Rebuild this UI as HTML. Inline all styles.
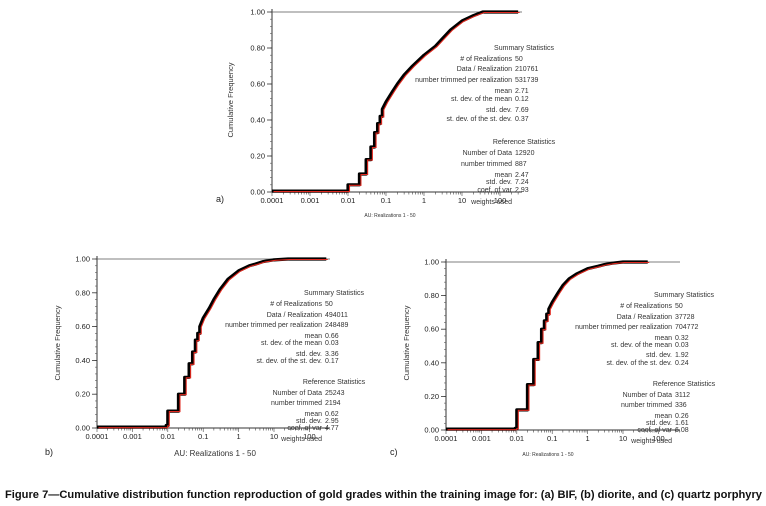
<!DOCTYPE html>
<html><head><meta charset="utf-8">
<style>
html,body{margin:0;padding:0;background:#fff;}
svg{display:block;font-family:"Liberation Sans",Arial,sans-serif;}
</style></head>
<body>
<svg id="fig" width="766" height="506" viewBox="0 0 766 506">
<text x="5" y="498" font-size="11" font-weight="bold" textLength="757" lengthAdjust="spacingAndGlyphs" fill="#111">Figure 7—Cumulative distribution function reproduction of gold grades within the training image for: (a) BIF, (b) diorite, and (c) quartz porphyry</text>
</svg>
<script>
// Panel a (BIF) CDF: grade values and cumulative frequency
const aGrades = [0.0001,0.01,0.02,0.03,0.04,0.05,0.06,0.07,0.08,0.1,0.15,0.2,0.3,0.5,1,2,3,5,10,20,35,300];
const aFreq   = [0.005,0.04,0.1,0.18,0.25,0.33,0.38,0.42,0.46,0.5,0.56,0.6,0.65,0.7,0.76,0.81,0.85,0.9,0.95,0.98,1.0,1.0];
// Panel b (diorite)
const bGrades = [0.0001,0.009,0.01,0.02,0.03,0.04,0.05,0.06,0.07,0.08,0.1,0.15,0.2,0.3,0.5,1,2,3,5,10,25,300];
const bFreq   = [0.005,0.015,0.1,0.2,0.3,0.38,0.45,0.52,0.56,0.6,0.65,0.71,0.76,0.82,0.88,0.93,0.96,0.97,0.985,0.995,1.0,1.0];
// Panel c (quartz porphyry)
const cGrades = [0.0001,0.009,0.01,0.02,0.03,0.04,0.05,0.06,0.07,0.08,0.1,0.15,0.2,0.3,0.5,1,2,3,5,10,50];
const cFreq   = [0.005,0.01,0.12,0.27,0.42,0.52,0.6,0.65,0.69,0.72,0.76,0.82,0.86,0.9,0.93,0.96,0.975,0.985,0.993,1.0,1.0];
// Axis tick labels
const yTickLabels = ["0.00","0.20","0.40","0.60","0.80","1.00"];
const yTickValues = [0,0.2,0.4,0.6,0.8,1.0];
const xTickLabels = ["0.0001","0.001","0.01","0.1","1","10","100"];
const xTickValues = [0.0001,0.001,0.01,0.1,1,10,100];
// Statistics tables
const aStats = [["# of Realizations","50"],["Data / Realization","210761"],["number trimmed per realization","531739"],["mean","2.71"],["st. dev. of the mean","0.12"],["std. dev.","7.69"],["st. dev. of the st. dev.","0.37"]];
const aRef = [["Number of Data","12920"],["number trimmed","887"],["mean","2.47"],["std. dev.","7.24"],["coef. of var","2.93"],["weights used",""]];
const bStats = [["# of Realizations","50"],["Data / Realization","494011"],["number trimmed per realization","248489"],["mean","0.66"],["st. dev. of the mean","0.03"],["std. dev.","3.36"],["st. dev. of the st. dev.","0.17"]];
const bRef = [["Number of Data","25243"],["number trimmed","2194"],["mean","0.62"],["std. dev.","2.95"],["coef. of var","4.77"],["weights used",""]];
const cStats = [["# of Realizations","50"],["Data / Realization","37728"],["number trimmed per realization","704772"],["mean","0.32"],["st. dev. of the mean","0.03"],["std. dev.","1.92"],["st. dev. of the st. dev.","0.24"]];
const cRef = [["Number of Data","3112"],["number trimmed","336"],["mean","0.26"],["std. dev.","1.61"],["coef. of var","6.08"],["weights used",""]];

const NS="http://www.w3.org/2000/svg";
const svg=document.getElementById('fig');
function mk(tag,attrs,parent,txt){const e=document.createElementNS(NS,tag);for(const k in attrs)e.setAttribute(k,attrs[k]);if(txt!==undefined)e.textContent=txt;(parent||svg).appendChild(e);return e;}

const panels=[
 {id:'a',x0:272,yTop:12,yBot:192,dec:38,xEnd:522,g:aGrades,f:aFreq,st:aStats,rf:aRef,lblX:512,hdrY:50,rows:[61,71,82,93,101,112,121],refHdr:144,refRows:[155,166,177,184,192,204],letter:[216,202],au:[390,217,5],ylab:[233,100]},
 {id:'b',x0:97,yTop:259,yBot:428,dec:35.4,xEnd:330,g:bGrades,f:bFreq,st:bStats,rf:bRef,lblX:322,hdrY:295,rows:[306,317,327,338,345,356,363],refHdr:384,refRows:[395,405,416,423,430,441],letter:[45,455],au:[215,456,8],ylab:[60,343]},
 {id:'c',x0:446,yTop:262,yBot:430,dec:35.4,xEnd:680,g:cGrades,f:cFreq,st:cStats,rf:cRef,lblX:672,hdrY:297,rows:[308,319,329,340,347,357,365],refHdr:386,refRows:[397,407,418,425,432,443],letter:[390,455],au:[548,456,5],ylab:[409,343]}
];

panels.forEach(p=>{
 const g=mk('g',{});
 
 
 const xs=v=>Math.min(p.xEnd,p.x0+(Math.log10(v)+4)*p.dec);
 const ys=v=>p.yBot-(p.yBot-p.yTop)*v;
 const ax=mk('line',{x1:p.x0,y1:p.yTop-3,x2:p.x0,y2:p.yBot,stroke:'#333','stroke-width':1},g);
 
 
 const bx=mk('line',{x1:p.x0,y1:p.yBot,x2:p.xEnd,y2:p.yBot,stroke:'#333','stroke-width':1},g);
 
 
 mk('line',{x1:p.x0,y1:ys(1),x2:p.xEnd,y2:ys(1),stroke:'#555','stroke-width':0.8},g);
 for(let v=0;v<=1.0001;v+=0.04){mk('line',{x1:p.x0-2,y1:ys(v),x2:p.x0,y2:ys(v),stroke:'#555','stroke-width':0.6},g);}
 yTickValues.forEach((v,i)=>{
  mk('line',{x1:p.x0-5,y1:ys(v),x2:p.x0,y2:ys(v),stroke:'#333','stroke-width':0.8},g);
  const t=mk('text',{x:p.x0-7,y:ys(v)+2.5,'font-size':7.5,'text-anchor':'end',fill:'#222'},g,yTickLabels[i]);
  
  
 });
 for(let e=-4;e<3;e++){for(let m=1;m<10;m++){const v=m*Math.pow(10,e);const x=p.x0+(Math.log10(v)+4)*p.dec;if(x>p.xEnd)break;mk('line',{x1:x,y1:p.yBot,x2:x,y2:p.yBot+(m==1?4:2.5),stroke:'#444','stroke-width':0.6},g);}}
 xTickValues.forEach((v,i)=>{
  const t=mk('text',{x:xs(v),y:p.yBot+11,'font-size':7.5,'text-anchor':'middle',fill:'#222'},g,xTickLabels[i]);
  
  
 });
 let d='';
 p.g.forEach((v,i)=>{
  const x=xs(v),y=ys(p.f[i]);
  if(i==0){d='M'+x+','+y;}
  else if(v<=0.085){d+=' L'+x+','+ys(p.f[i-1])+' L'+x+','+y;}
  else d+=' L'+x+','+y;
 });
 const blk=mk('path',{d:d,fill:'none',stroke:'#000','stroke-width':3.2,'stroke-linejoin':'round'},g);
 
 
 const red=mk('path',{d:d,fill:'none',stroke:'#e0281e','stroke-width':1.1,transform:'translate(1.5,0.5)'},g);
 
 
 const h1=mk('text',{x:p.lblX+12,y:p.hdrY,'font-size':7,'text-anchor':'middle',fill:'#333'},g,'Summary Statistics');
 
 
 p.st.forEach((r,i)=>{
  mk('text',{x:p.lblX,y:p.rows[i],'font-size':7,'text-anchor':'end',fill:'#333'},g,r[0]);
  mk('text',{x:p.lblX+3,y:p.rows[i],'font-size':7,fill:'#333'},g,r[1]);
 });
 const h2=mk('text',{x:p.lblX+12,y:p.refHdr,'font-size':7,'text-anchor':'middle',fill:'#333'},g,'Reference Statistics');
 
 
 p.rf.forEach((r,i)=>{
  mk('text',{x:p.lblX,y:p.refRows[i],'font-size':7,'text-anchor':'end',fill:'#333'},g,r[0]);
  if(r[1])mk('text',{x:p.lblX+3,y:p.refRows[i],'font-size':7,fill:'#333'},g,r[1]);
 });
 const yl=mk('text',{x:p.ylab[0],y:p.ylab[1],'font-size':7.5,'text-anchor':'middle',fill:'#333',transform:'rotate(-90 '+p.ylab[0]+' '+p.ylab[1]+')'},g,'Cumulative Frequency');
 
 
 const au=mk('text',{x:p.au[0],y:p.au[1],'font-size':p.au[2],'text-anchor':'middle',fill:'#333'},g,'AU:  Realizations   1 - 50');
 
 
 const lt=mk('text',{x:p.letter[0],y:p.letter[1],'font-size':9,fill:'#222'},g,p.id+')');
 
 
});
</script>
</body></html>
